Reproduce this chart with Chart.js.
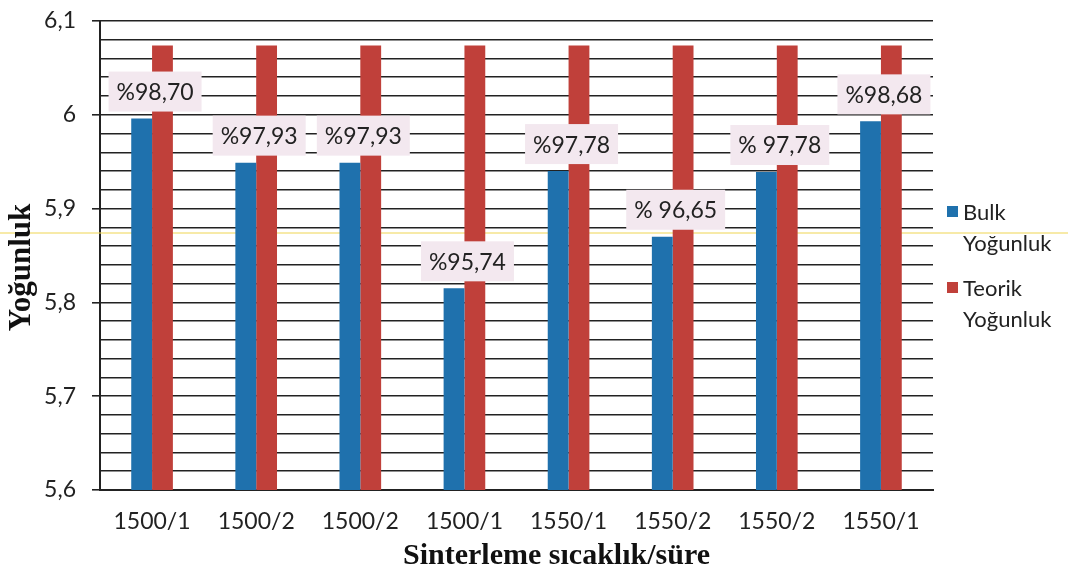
<!DOCTYPE html>
<html lang="tr">
<head>
<meta charset="utf-8">
<title>Yoğunluk</title>
<script src="https://cdn.jsdelivr.net/npm/chart.js@4.4.1/dist/chart.umd.min.js"></script>
<style>
  html, body { margin: 0; padding: 0; background: #fff; }
  #wrap { position: relative; width: 1068px; height: 577px; }
  #legend { position: absolute; left: 947px; top: 196px; font-family: Lato, sans-serif; font-size: 22px; color: #222; line-height: 31px; }
  .item { position: relative; padding-left: 16px; margin-bottom: 14px; }
  .box { position: absolute; left: 0; top: 10px; width: 11px; height: 11px; }
</style>
</head>
<body>
<div id="wrap">
  <canvas id="chart"></canvas>
  <div id="legend"></div>
</div>
<script>
const categories = ["1500/1", "1500/2", "1500/2", "1500/1", "1550/1", "1550/2", "1550/2", "1550/1"];
const bulk = [5.996, 5.949, 5.949, 5.815, 5.940, 5.870, 5.939, 5.993];
const teorik = [6.074, 6.074, 6.074, 6.074, 6.074, 6.074, 6.074, 6.074];
const pctLabels = ["%98,70", "%97,93", "%97,93", "%95,74", "%97,78", "% 96,65", "% 97,78", "%98,68"];
const seriesNames = [["Bulk", "Yoğunluk"], ["Teorik", "Yoğunluk"]];
const xTitle = "Sinterleme sıcaklık/süre";
const yTitle = "Yoğunluk";
const colors = ["#1f71ad", "#c0403a"];

// percent boxes sit above each bulk bar, centred on the category
const pctBoxes = {
  id: "pctBoxes",
  afterDatasetsDraw(chart) {
    const ctx = chart.ctx;
    const xs = chart.scales.x;
    const bars = chart.getDatasetMeta(0).data;
    ctx.save();
    ctx.font = '23px Lato, sans-serif';
    ctx.textAlign = "center";
    ctx.textBaseline = "middle";
    pctLabels.forEach((txt, i) => {
      const cx = xs.getPixelForValue(i) + 3;
      const bottom = bars[i].y - 7;
      const w = ctx.measureText(txt).width + 16;
      const h = 40;
      ctx.fillStyle = "#f3e8ef";
      ctx.fillRect(cx - w / 2, bottom - h, w, h);
      ctx.fillStyle = "#222";
      ctx.fillText(txt, cx, bottom - h / 2 + 1);
    });
    ctx.restore();
  }
};

// axis titles: in the source they sit a little off the plot centre
const axisTitles = {
  id: "axisTitles",
  afterDraw(chart) {
    const ctx = chart.ctx;
    const a = chart.chartArea;
    ctx.save();
    ctx.fillStyle = "#111";
    ctx.font = 'bold 30px "Liberation Serif", serif';
    ctx.textAlign = "center";
    ctx.textBaseline = "middle";
    ctx.fillText(xTitle, (a.left + a.right) / 2 + 40, chart.height - 21);
    ctx.translate(22, (a.top + a.bottom) / 2 + 12);
    ctx.rotate(-Math.PI / 2);
    ctx.font = 'bold 31px "Liberation Serif", serif';
    ctx.fillText(yTitle, 0, 0);
    ctx.restore();
  }
};

// faint yellow scan streak across the page
const streak = {
  id: "streak",
  beforeDatasetsDraw(chart) {
    const ctx = chart.ctx;
    ctx.save();
    ctx.strokeStyle = "rgba(240,215,90,0.7)";
    ctx.lineWidth = 1.5;
    ctx.beginPath();
    ctx.moveTo(0, 233);
    ctx.lineTo(chart.width, 233);
    ctx.stroke();
    ctx.restore();
  }
};

const whiteBg = {
  id: "whiteBg",
  beforeDraw(chart) {
    chart.ctx.save();
    chart.ctx.fillStyle = "#fff";
    chart.ctx.fillRect(0, 0, chart.width, chart.height);
    chart.ctx.restore();
  }
};

const isMajor = (v) => Math.abs(v * 10 - Math.round(v * 10)) < 1e-6;

new Chart(document.getElementById("chart"), {
  type: "bar",
  data: {
    labels: categories,
    datasets: [
      { label: seriesNames[0].join(" "), data: bulk, backgroundColor: colors[0] },
      { label: seriesNames[1].join(" "), data: teorik, backgroundColor: colors[1] }
    ]
  },
  options: {
    responsive: true,
    maintainAspectRatio: false,
    animation: false,
    layout: { padding: { top: 21, right: 135, left: 0, bottom: 0 } },
    plugins: { legend: { display: false }, tooltip: { enabled: false } },
    datasets: { bar: { barPercentage: 1, categoryPercentage: 0.4 } },
    scales: {
      x: {
        grid: { display: false },
        border: { display: true, color: "#222", width: 2 },
        ticks: { color: "#222", font: { family: "Lato", size: 23 }, padding: 10 },
        afterFit(s) { s.height = 87; s.paddingLeft = 0; s.paddingRight = 0; }
      },
      y: {
        min: 5.6,
        max: 6.1,
        grid: {
          color: "#222",
          lineWidth: 1.6,
          tickLength: 8,
          tickColor: (c) => (c.tick && isMajor(c.tick.value) ? "#222" : "rgba(0,0,0,0)")
        },
        border: { display: true, color: "#222", width: 2 },
        ticks: {
          stepSize: 0.02,
          autoSkip: false,
          color: "#222",
          font: { family: "Lato", size: 23 },
          padding: 16,
          callback: (v) => (isMajor(v) ? (Math.round(v * 10) / 10).toString().replace(".", ",") : "")
        },
        afterFit(s) { s.width = 100; s.paddingTop = 0; s.paddingBottom = 0; }
      }
    }
  },
  plugins: [whiteBg, streak, pctBoxes, axisTitles]
});

document.getElementById("legend").innerHTML = seriesNames.map((n, i) => `
  <div class="item"><span class="box" style="background:${colors[i]}"></span>${n[0]}<br>${n[1]}</div>
`).join("");
</script>
</body>
</html>
